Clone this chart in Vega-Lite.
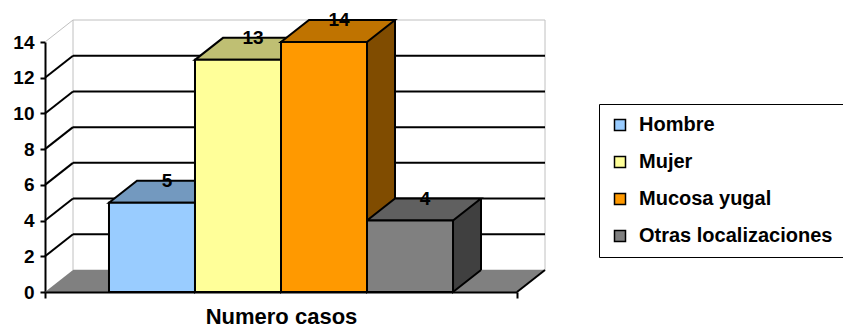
{
  "$schema": "https://vega.github.io/schema/vega-lite/v6.json",
  "width": 472,
  "height": 250,
  "autosize": "none",
  "padding": {"left": 45, "top": 42, "right": 326, "bottom": 35},
  "background": "white",
  "config": {
    "view": {"stroke": null},
    "font": "Liberation Sans",
    "axisY": {"labelOverlap": false, "grid": false, "tickSize": 5, "tickWidth": 2, "tickColor": "black", "domainColor": "black", "domainWidth": 2, "labelFont": "Liberation Sans", "labelFontSize": 19, "labelFontWeight": "bold", "labelColor": "black", "labelPadding": 6, "zindex": 1}
  },
  "datasets": {
    "casos": [
      {"serie": "Hombre", "value": 5},
      {"serie": "Mujer", "value": 13},
      {"serie": "Mucosa yugal", "value": 14},
      {"serie": "Otras localizaciones", "value": 4}
    ],
    "ticks": [{"t": 2}, {"t": 4}, {"t": 6}, {"t": 8}, {"t": 10}, {"t": 12}],
    "one": [{"k": 1}]
  },
  "resolve": {"scale": {"x": "independent", "color": "independent"}},
  "layer": [
    {
      "data": {"name": "one"},
      "mark": {"type": "rect", "fill": "white", "stroke": "#c0c0c0", "strokeWidth": 1, "xOffset": 28, "x2Offset": 28, "yOffset": -22, "y2Offset": -22},
      "encoding": {
        "x": {"datum": 0, "type": "quantitative", "scale": {"domain": [0, 1], "nice": false, "zero": false},
          "axis": {"values": [0, 1], "labels": false, "ticks": true, "tickSize": 6, "tickColor": "black", "tickWidth": 2, "domainColor": "black", "domainWidth": 2, "grid": false, "title": "Numero casos", "titleFont": "Liberation Sans", "titleFontWeight": "bold", "titleFontSize": 22, "titleColor": "black", "titlePadding": 7, "zindex": 1}},
        "x2": {"datum": 1},
        "y": {"datum": 0, "type": "quantitative", "scale": {"domain": [0, 14], "nice": false, "zero": true},
          "axis": {"values": [0, 2, 4, 6, 8, 10, 12, 14], "labelOverlap": false, "title": null}},
        "y2": {"datum": 14}
      }
    },
    {
      "data": {"name": "ticks"},
      "mark": {"type": "rule", "stroke": "black", "strokeWidth": 2, "xOffset": 28, "x2Offset": 28, "yOffset": -22, "y2Offset": -22},
      "encoding": {
        "x": {"datum": 0, "type": "quantitative", "scale": {"domain": [0, 1], "nice": false, "zero": false}, "axis": null},
        "x2": {"datum": 1},
        "y": {"field": "t", "type": "quantitative", "axis": {"values": [0, 2, 4, 6, 8, 10, 12, 14], "labelOverlap": false, "title": null}},
        "y2": {"field": "t"}
      }
    },
    {
      "data": {"name": "ticks"},
      "mark": {"type": "rule", "stroke": "black", "strokeWidth": 2, "x2Offset": 28, "y2Offset": -22},
      "encoding": {
        "x": {"datum": 0, "type": "quantitative", "scale": {"domain": [0, 1], "nice": false, "zero": false}, "axis": null},
        "x2": {"datum": 0},
        "y": {"field": "t", "type": "quantitative", "axis": {"values": [0, 2, 4, 6, 8, 10, 12, 14], "labelOverlap": false, "title": null}},
        "y2": {"field": "t"}
      }
    },
    {
      "data": {"name": "one"},
      "mark": {"type": "rule", "stroke": "#c0c0c0", "strokeWidth": 1, "x2Offset": 28, "y2Offset": -22},
      "encoding": {
        "x": {"datum": 0, "type": "quantitative", "scale": {"domain": [0, 1], "nice": false, "zero": false}, "axis": null},
        "x2": {"datum": 0},
        "y": {"datum": 14, "type": "quantitative", "axis": {"values": [0, 2, 4, 6, 8, 10, 12, 14], "labelOverlap": false, "title": null}},
        "y2": {"datum": 14}
      }
    },
    {
      "data": {"name": "one"},
      "mark": {"type": "point", "shape": "M-0.8814,-0.0932L-1,0L1,0L1.1186,-0.0932Z", "size": 222784, "filled": true, "fill": "#808080", "stroke": null, "opacity": 1},
      "encoding": {
        "x": {"datum": 0.5, "type": "quantitative", "scale": {"domain": [0, 1], "nice": false, "zero": false}, "axis": null},
        "y": {"datum": 0, "type": "quantitative", "axis": {"values": [0, 2, 4, 6, 8, 10, 12, 14], "labelOverlap": false, "title": null}}
      }
    },
    {
      "data": {"name": "one"},
      "mark": {"type": "point", "shape": "M1,0L1.1186,-0.0932", "size": 222784, "filled": false, "fill": null, "stroke": "black", "strokeWidth": 2, "opacity": 1},
      "encoding": {
        "x": {"datum": 0.5, "type": "quantitative", "scale": {"domain": [0, 1], "nice": false, "zero": false}, "axis": null},
        "y": {"datum": 0, "type": "quantitative", "axis": {"values": [0, 2, 4, 6, 8, 10, 12, 14], "labelOverlap": false, "title": null}}
      }
    },
    {
      "data": {"name": "casos"},
      "mark": {"type": "bar", "width": 28, "xOffset": 57, "yOffset": -22, "y2Offset": -22, "stroke": null},
      "encoding": {
        "x": {"field": "serie", "type": "nominal", "scale": {"type": "band", "domain": ["Hombre", "Mujer", "Mucosa yugal", "Otras localizaciones"], "paddingInner": 0, "paddingOuter": 0.744}, "axis": null},
        "y": {"field": "value", "type": "quantitative", "stack": null, "axis": {"values": [0, 2, 4, 6, 8, 10, 12, 14], "labelOverlap": false, "title": null}},
        "y2": {"datum": 0},
        "color": {"field": "serie", "type": "nominal", "scale": {"domain": ["Hombre", "Mujer", "Mucosa yugal", "Otras localizaciones"], "range": ["#4C6680", "#80804C", "#804C00", "#404040"]}, "legend": null}
      }
    },
    {
      "data": {"name": "casos"},
      "mark": {"type": "point", "shape": "M1,-0.5116L1,0L1.6512,-0.5116", "size": 7396, "filled": true, "stroke": "black", "strokeWidth": 2, "opacity": 1},
      "encoding": {
        "x": {"field": "serie", "type": "nominal", "scale": {"type": "band", "domain": ["Hombre", "Mujer", "Mucosa yugal", "Otras localizaciones"], "paddingInner": 0, "paddingOuter": 0.744}, "axis": null},
        "y": {"datum": 0, "type": "quantitative", "axis": {"values": [0, 2, 4, 6, 8, 10, 12, 14], "labelOverlap": false, "title": null}},
        "color": {"field": "serie", "type": "nominal", "scale": {"domain": ["Hombre", "Mujer", "Mucosa yugal", "Otras localizaciones"], "range": ["#4C6680", "#80804C", "#804C00", "#404040"]}, "legend": null}
      }
    },
    {
      "data": {"name": "casos"},
      "mark": {"type": "rule", "stroke": "black", "strokeWidth": 2, "xOffset": 71, "yOffset": -22, "y2Offset": -22},
      "encoding": {
        "x": {"field": "serie", "type": "nominal", "scale": {"type": "band", "domain": ["Hombre", "Mujer", "Mucosa yugal", "Otras localizaciones"], "paddingInner": 0, "paddingOuter": 0.744}, "axis": null},
        "y": {"field": "value", "type": "quantitative", "axis": {"values": [0, 2, 4, 6, 8, 10, 12, 14], "labelOverlap": false, "title": null}},
        "y2": {"datum": 0}
      }
    },
    {
      "data": {"name": "casos"},
      "mark": {"type": "point", "shape": "M-1,0L1,0L1.6512,-0.5116L-0.3488,-0.5116Z", "size": 7396, "filled": true, "stroke": "black", "strokeWidth": 2, "opacity": 1},
      "encoding": {
        "x": {"field": "serie", "type": "nominal", "scale": {"type": "band", "domain": ["Hombre", "Mujer", "Mucosa yugal", "Otras localizaciones"], "paddingInner": 0, "paddingOuter": 0.744}, "axis": null},
        "y": {"field": "value", "type": "quantitative", "axis": {"values": [0, 2, 4, 6, 8, 10, 12, 14], "labelOverlap": false, "title": null}},
        "color": {"field": "serie", "type": "nominal", "scale": {"domain": ["Hombre", "Mujer", "Mucosa yugal", "Otras localizaciones"], "range": ["#7399BF", "#BFBF73", "#BF7300", "#606060"]}, "legend": null}
      }
    },
    {
      "data": {"name": "casos"},
      "mark": {"type": "bar", "stroke": "black", "strokeWidth": 2},
      "encoding": {
        "x": {"field": "serie", "type": "nominal", "scale": {"type": "band", "domain": ["Hombre", "Mujer", "Mucosa yugal", "Otras localizaciones"], "paddingInner": 0, "paddingOuter": 0.744}, "axis": null},
        "y": {"field": "value", "type": "quantitative", "stack": null, "axis": {"values": [0, 2, 4, 6, 8, 10, 12, 14], "labelOverlap": false, "title": null}},
        "y2": {"datum": 0},
        "color": {"field": "serie", "type": "nominal", "scale": {"domain": ["Hombre", "Mujer", "Mucosa yugal", "Otras localizaciones"], "range": ["#99CCFF", "#FFFF99", "#FF9900", "#808080"]},
          "legend": {"orient": "none", "legendX": 554, "legendY": 62, "title": null, "symbolType": "square", "symbolSize": 121, "symbolStrokeColor": "black", "symbolStrokeWidth": 1.5, "labelFont": "Liberation Sans", "labelFontSize": 20, "labelFontWeight": "bold", "labelColor": "black", "labelOffset": 9, "labelLimit": 400, "rowPadding": 17, "padding": 11, "strokeColor": "black", "fillColor": "white"}}
      }
    },
    {
      "data": {"name": "casos"},
      "mark": {"type": "text", "font": "Liberation Sans", "fontSize": 19, "fontWeight": "bold", "color": "black", "baseline": "middle", "align": "center", "xOffset": 15, "yOffset": -22},
      "encoding": {
        "x": {"field": "serie", "type": "nominal", "scale": {"type": "band", "domain": ["Hombre", "Mujer", "Mucosa yugal", "Otras localizaciones"], "paddingInner": 0, "paddingOuter": 0.744}, "axis": null},
        "y": {"field": "value", "type": "quantitative", "axis": {"values": [0, 2, 4, 6, 8, 10, 12, 14], "labelOverlap": false, "title": null}},
        "text": {"field": "value", "type": "quantitative"}
      }
    }
  ]
}
